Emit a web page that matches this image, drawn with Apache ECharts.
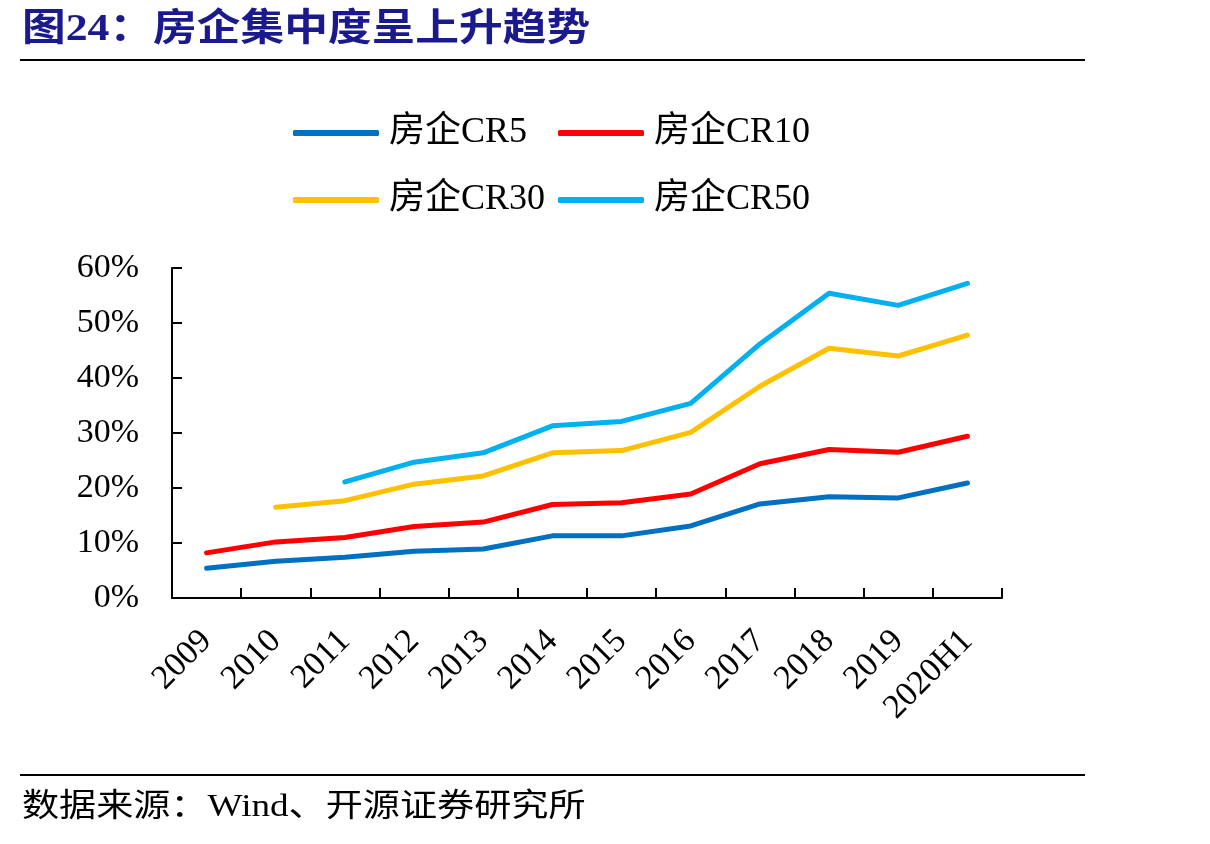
<!DOCTYPE html>
<html>
<head>
<meta charset="utf-8">
<script src="https://cdn.jsdelivr.net/npm/echarts@6/dist/echarts.min.js"></script>
<style>
  html, body { margin: 0; padding: 0; background: #fff; }
  #main { width: 1210px; height: 844px; }
</style>
</head>
<body>
<div id="main"></div>
<script>
  // 横轴类别
  var categories = ['2009', '2010', '2011', '2012', '2013', '2014', '2015', '2016', '2017', '2018', '2019', '2020H1']
  // 各集中度 (%)
  var cr5 = [5.4, 6.7, 7.4, 8.5, 8.9, 11.3, 11.3, 13.1, 17.1, 18.4, 18.2, 20.9]
  var cr10 = [8.2, 10.2, 11.0, 13.0, 13.8, 17.0, 17.3, 18.9, 24.4, 27.0, 26.5, 29.4]
  var cr30 = [null, 16.5, 17.7, 20.7, 22.2, 26.4, 26.8, 30.1, 38.5, 45.4, 44.0, 47.8]
  var cr50 = [null, null, 21.1, 24.7, 26.4, 31.3, 32.1, 35.4, 46.2, 55.4, 53.2, 57.2]
  var yTicks = [0, 10, 20, 30, 40, 50, 60]

  var fontFam = '"Liberation Serif", "Times New Roman", "Noto Sans CJK SC", serif'

  var myChart = echarts.init(document.getElementById('main'))

  function mkLine(name, data, color) {
    return {
      name: name,
      type: 'line',
      data: data,
      symbol: 'none',
      lineStyle: { color: color, width: 5, cap: 'round', join: 'round' },
      itemStyle: { color: color },
      connectNulls: false
    }
  }

  var legendBase = {
    orient: 'vertical',
    top: 110,
    itemWidth: 86,
    itemHeight: 6,
    itemGap: 31,
    icon: 'roundRect',
    textStyle: { fontFamily: fontFam, fontSize: 36, color: '#000', lineHeight: 36, padding: [0, 0, 0, 5] }
  }

  myChart.setOption({
    backgroundColor: '#fff',
    animation: false,
    legend: [
      Object.assign({}, legendBase, { left: 288, data: ['房企CR5', '房企CR30'] }),
      Object.assign({}, legendBase, { left: 553, data: ['房企CR10', '房企CR50'] })
    ],
    grid: { left: 172, right: 208, top: 268, bottom: 246, containLabel: false },
    xAxis: {
      type: 'category',
      data: categories,
      boundaryGap: true,
      axisLine: { lineStyle: { color: '#000', width: 2 } },
      axisTick: { show: true, inside: true, length: 10, lineStyle: { color: '#000', width: 2 } },
      axisLabel: { rotate: 45, interval: 0, margin: 38, color: '#000', fontSize: 34, fontFamily: fontFam }
    },
    yAxis: {
      type: 'value',
      min: yTicks[0],
      max: yTicks[yTicks.length - 1],
      interval: 10,
      splitLine: { show: false },
      axisLine: { show: true, lineStyle: { color: '#000', width: 2 } },
      axisTick: { show: true, inside: true, length: 10, lineStyle: { color: '#000', width: 2 } },
      axisLabel: { margin: 33, color: '#000', fontSize: 34, fontFamily: fontFam, formatter: '{value}%' }
    },
    graphic: [
      {
        type: 'text', x: 22, y: 11, scaleX: 1.15,
        style: { text: '图24：房企集中度呈上升趋势', fill: '#1a1a8e', font: 'bold 38px ' + fontFam }
      },
      { type: 'line', shape: { x1: 20, y1: 60, x2: 1085, y2: 60 }, style: { stroke: '#000', lineWidth: 2 } },
      { type: 'line', shape: { x1: 20, y1: 775, x2: 1085, y2: 775 }, style: { stroke: '#000', lineWidth: 2 } },
      {
        type: 'text', x: 22, y: 792, scaleX: 1.16,
        style: { text: '数据来源：Wind、开源证券研究所', fill: '#000', font: '32px ' + fontFam }
      }
    ],
    series: [
      mkLine('房企CR5', cr5, '#0070c0'),
      mkLine('房企CR10', cr10, '#ff0000'),
      mkLine('房企CR30', cr30, '#ffc000'),
      mkLine('房企CR50', cr50, '#00b0f0')
    ]
  })
</script>
</body>
</html>
